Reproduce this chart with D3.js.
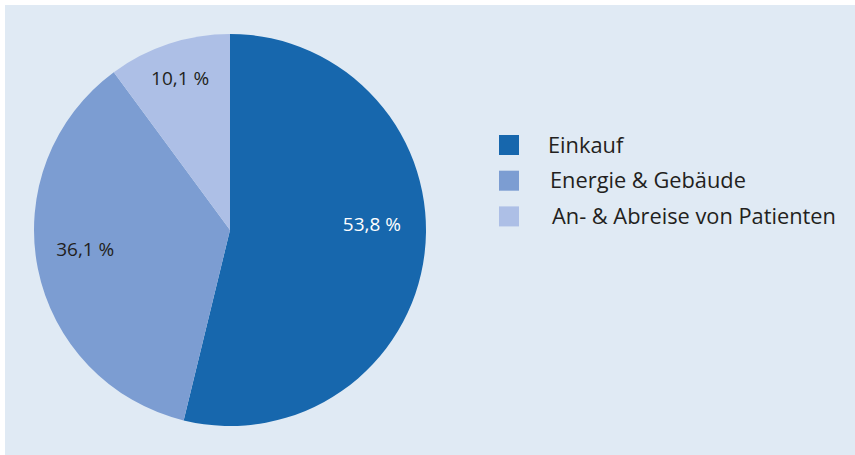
<!DOCTYPE html>
<html>
<head>
<meta charset="utf-8">
<script src="https://cdn.jsdelivr.net/npm/d3@7"></script>
<style>
  body { margin: 0; background: #fff; }
  svg text { font-family: "Open Sans", "Noto Sans", sans-serif; }
</style>
</head>
<body>
<div id="chart"></div>
<script>
// categories and shares (percent)
const categories = ["Einkauf", "Energie & Gebäude", "An- & Abreise von Patienten"];
const shares = [53.8, 36.1, 10.1];
const shareLabels = ["53,8 %", "36,1 %", "10,1 %"];
const colors = ["#1767ad", "#7c9dd2", "#adbfe6"];

const width = 855, height = 455;

const svg = d3.select("#chart")
    .append("svg")
    .attr("width", width)
    .attr("height", height);

// background panel
svg.append("rect")
    .attr("x", 5)
    .attr("y", 5)
    .attr("width", width - 5)
    .attr("height", height - 5)
    .attr("fill", "#e0eaf4");

const cx = 230, cy = 230, radius = 196;

const pie = d3.pie().sort(null).value(d => d);
const arcs = pie(shares);

const arc = d3.arc().innerRadius(0).outerRadius(radius);

const pieGroup = svg.append("g")
    .attr("transform", `translate(${cx}, ${cy})`);

pieGroup.selectAll("path")
    .data(arcs)
    .enter()
    .append("path")
    .attr("d", arc)
    .attr("fill", (d, i) => colors[i]);

// label placement: radius + angle nudge (degrees) per slice
const labelRadius = [142, 146, 160];
const labelTurn = [-9.2, 3.9, 0];

pieGroup.selectAll("text.pct")
    .data(arcs)
    .enter()
    .append("text")
    .attr("class", "pct")
    .attr("x", (d, i) => {
        let a = (d.startAngle + d.endAngle) / 2 + labelTurn[i] * Math.PI / 180;
        return labelRadius[i] * Math.sin(a);
    })
    .attr("y", (d, i) => {
        let a = (d.startAngle + d.endAngle) / 2 + labelTurn[i] * Math.PI / 180;
        return -labelRadius[i] * Math.cos(a);
    })
    .attr("dy", "0.35em")
    .attr("text-anchor", "middle")
    .attr("font-size", "19px")
    .attr("fill", (d, i) => i === 0 ? "#ffffff" : "#231f20")
    .text((d, i) => shareLabels[i]);

// legend
const legend = svg.append("g")
    .attr("transform", "translate(499, 135)");

const rows = legend.selectAll("g")
    .data(categories)
    .enter()
    .append("g")
    .attr("transform", (d, i) => `translate(0, ${i * 35.7})`);

rows.append("rect")
    .attr("width", 20)
    .attr("height", 20)
    .attr("fill", (d, i) => colors[i]);

rows.append("text")
    .attr("x", (d, i) => 49 + i * 2)
    .attr("y", 17.5)
    .attr("font-size", "21.8px")
    .attr("fill", "#231f20")
    .text(d => d);
</script>
</body>
</html>
